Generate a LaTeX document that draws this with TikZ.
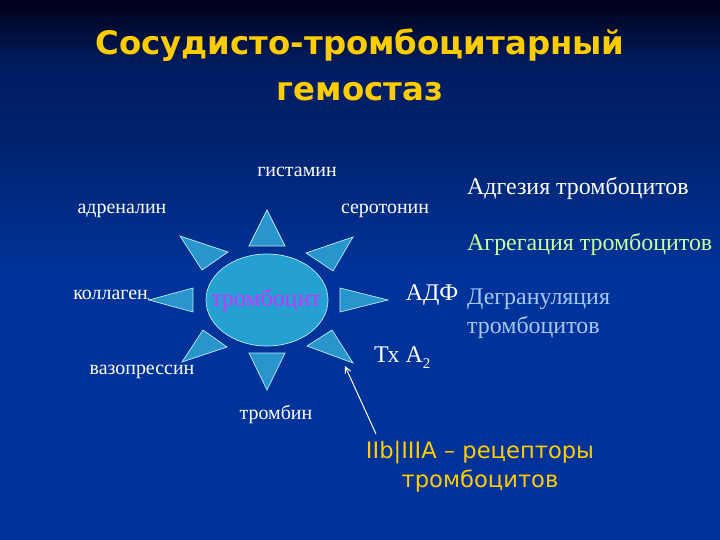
\documentclass[tikz,border=0pt]{standalone}
\usepackage{fontspec}
\setmainfont{Liberation Serif}
\newfontfamily\titlefont{DejaVu Sans}
\usetikzlibrary{shapes.geometric,arrows.meta,calc}
\definecolor{bgtop}{RGB}{0,0,22}
\definecolor{bgmid}{RGB}{0,34,110}
\definecolor{bgbot}{RGB}{0,51,153}
\definecolor{tri}{RGB}{40,150,205}
\definecolor{triedge}{RGB}{190,235,255}
\definecolor{ttl}{RGB}{255,204,0}
\definecolor{grn}{RGB}{204,255,153}
\definecolor{lbl}{RGB}{165,200,245}
\definecolor{mag}{RGB}{204,51,255}
\pgfdeclareverticalshading{bgsh}{100bp}{color(0bp)=(bgbot); color(50bp)=(bgbot); color(62bp)=(bgmid); color(69bp)=(bgmid!85!bgtop); color(75bp)=(bgtop); color(100bp)=(bgtop)}
\tikzset{
  raybox/.style={fill=tri, draw=triedge, line width=0.7pt, line join=miter},
  wlab/.style={text=white, inner sep=0pt, font=\fontsize{20}{22}\selectfont},
  biglab/.style={inner sep=0pt, font=\fontsize{24}{28}\selectfont},
  ttlline/.style={inner sep=0pt, text=ttl, font=\titlefont\bfseries\fontsize{32.5}{36}\selectfont},
  yellab/.style={text=ttl, inner sep=0pt, align=center, font=\titlefont\fontsize{22.7}{29}\selectfont}
}
\begin{document}
\begin{tikzpicture}[x=1bp,y=-1bp]
\shade[shading=bgsh] (0,0) rectangle (720,540);
\path[use as bounding box] (0,0) rectangle (720,540);
% title
\node[ttlline] (t1) at (360,45) {Сосудисто-тромбоцитарный};
\node[ttlline] (t2) at (360,92) {гемостаз};
% rays
\draw[raybox] (267,210) coordinate (aT) -- (249,246) -- (285,246) -- cycle;
\draw[raybox] (180,236) coordinate (aTL) -- (202,270) -- (228,252) -- cycle;
\draw[raybox] (353,237) coordinate (aTR) -- (306,253) -- (333,271) -- cycle;
\draw[raybox] (149,300) coordinate (aL) -- (193,288) -- (193,312) -- cycle;
\draw[raybox] (388,300) coordinate (aR) -- (340,288) -- (340,312) -- cycle;
\draw[raybox] (182,362) coordinate (aBL) -- (203,330) -- (227,347) -- cycle;
\draw[raybox] (267,390) coordinate (aB) -- (249,353) -- (285,353) -- cycle;
\draw[raybox] (353,363) coordinate (aBR) -- (307,346) -- (332,330) -- cycle;
% platelet
\node[ellipse, fill=tri!90!cyan, draw=triedge, line width=0.7pt, minimum width=122bp, minimum height=92bp, inner sep=0pt] (pl) at (267,300) {};
\node[inner sep=0pt, text=mag, font=\fontsize{24}{26}\selectfont] (plt) at (266,300) {тромбоцит};
% labels
\node[wlab] (hist) at (297,172) {гистамин};
\node[wlab] (adr) at (122,211) {адреналин};
\node[wlab] (ser) at (385,211) {серотонин};
\node[wlab, anchor=east] (kol) at (148,295) {коллаген};
\node[wlab] (vaz) at (142,372) {вазопрессин};
\node[wlab] (trb) at (276,414) {тромбин};
\node[inner sep=0pt, text=white, font=\fontsize{24}{26}\selectfont] (adf) at (432,295) {АДФ};
\node[inner sep=0pt, text=white, font=\fontsize{24}{26}\selectfont, anchor=west] (tx) at (374,358) {Тх А{\fontsize{15}{16}\selectfont\raisebox{-6bp}{2}}};
\node[biglab, text=white, anchor=west] (adg) at (467,188) {Адгезия тромбоцитов};
\node[biglab, text=grn, anchor=west] (agr) at (467,244) {Агрегация тромбоцитов};
\node[inner sep=0pt, text=lbl, anchor=north west, align=left, font=\fontsize{24}{29}\selectfont] (deg) at (467,289) {Дегрануляция\\тромбоцитов};
\node[yellab, anchor=north] (rec) at (480,441) {IIb|IIIA – рецепторы\\тромбоцитов};
% connectors
\coordinate (arS) at (376,434);
\coordinate (arE) at (345,366);
\draw[white, line width=0.9pt] ($(kol.east)+(0,3)$) -- (aL);
\draw[white, line width=1pt, -{Straight Barb[length=6bp,width=6bp]}] (arS) -- (arE);
\end{tikzpicture}
\end{document}
